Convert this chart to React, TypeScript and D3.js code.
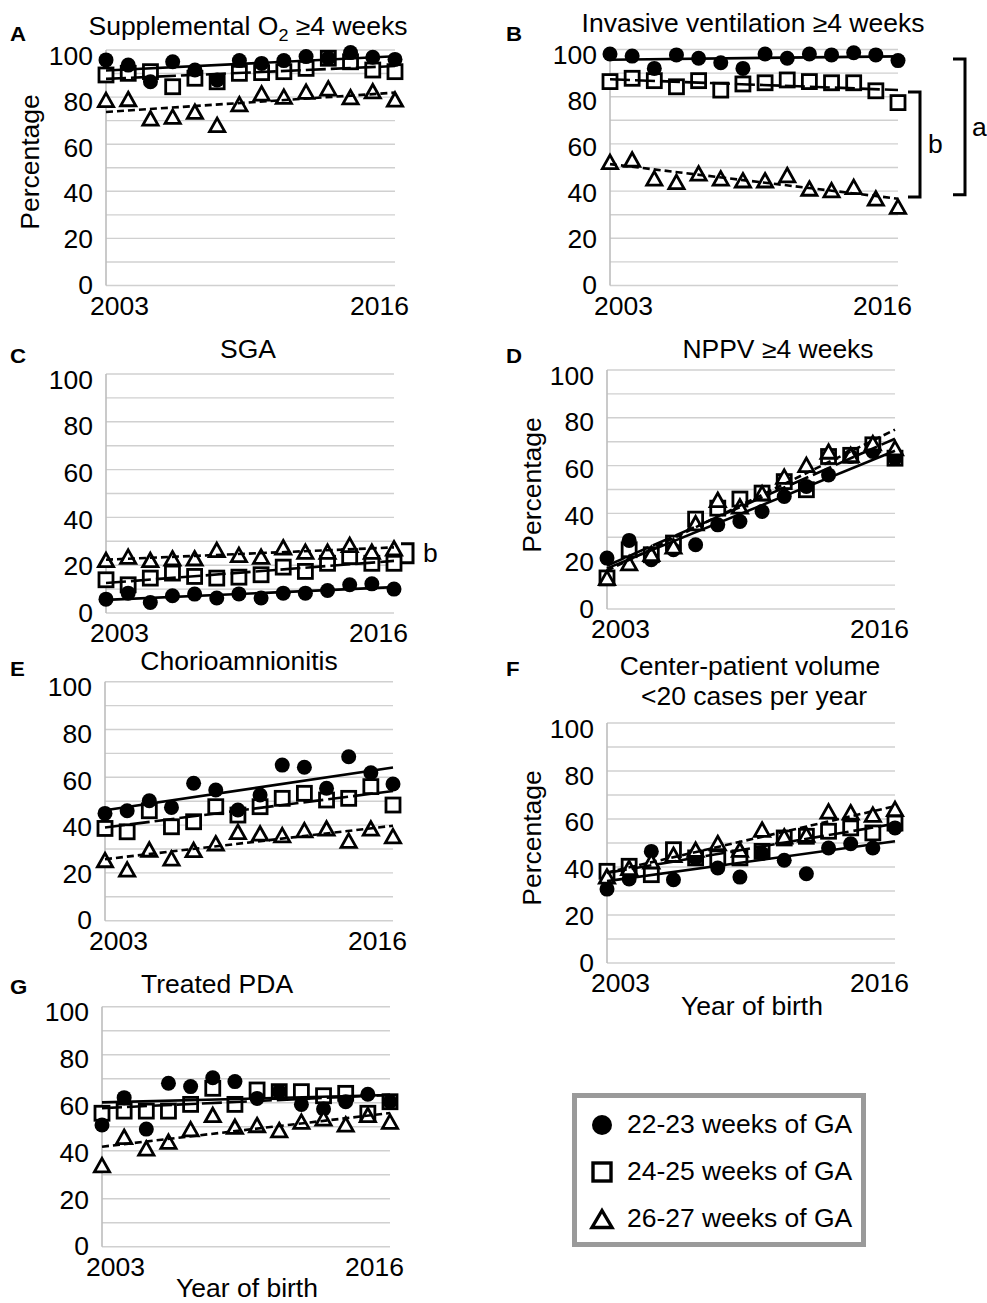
import React from 'react';
import * as d3 from 'd3';

const years = [2003, 2004, 2005, 2006, 2007, 2008, 2009, 2010, 2011, 2012, 2013, 2014, 2015, 2016];
const seriesNames = ['22-23 weeks of GA', '24-25 weeks of GA', '26-27 weeks of GA'];
const yTickValues = [0, 20, 40, 60, 80, 100];
const xTickLabels = ['2003', '2016'];

// A: Supplemental O2 >=4 weeks
const aCircles = [95.8, 93.6, 86.5, 95.0, 91.5, 87.3, 95.5, 94.3, 95.5, 97.2, 96.5, 98.9, 96.9, 96.0];
const aSquares = [89.4, 90.1, 90.8, 84.4, 88.0, 86.5, 90.1, 90.4, 90.8, 92.2, 96.5, 95.0, 91.5, 90.8];
const aTriangles = [78.8, 79.2, 71.0, 71.7, 73.8, 68.2, 77.0, 81.6, 80.2, 82.3, 83.7, 80.0, 82.5, 79.0];
// B: Invasive ventilation >=4 weeks
const bCircles = [98.1, 97.2, 92.0, 97.7, 96.3, 94.4, 92.0, 98.1, 96.3, 98.1, 97.7, 98.6, 97.7, 95.3];
const bSquares = [86.4, 87.8, 86.8, 84.2, 86.8, 82.8, 85.4, 85.9, 87.1, 86.4, 85.9, 85.9, 82.5, 77.5];
const bTriangles = [52.4, 53.4, 45.4, 43.9, 47.5, 45.4, 44.6, 44.6, 46.8, 41.1, 40.4, 41.8, 36.9, 33.4];
// C: SGA
const cCircles = [5.8, 8.3, 4.4, 7.2, 7.9, 6.3, 8.0, 6.3, 8.3, 8.3, 9.4, 11.8, 12.2, 10.0];
const cSquares = [13.9, 11.8, 14.6, 16.7, 15.3, 14.6, 15.0, 16.0, 19.2, 17.4, 20.8, 23.6, 20.8, 20.8];
const cTriangles = [22.2, 23.6, 22.2, 22.9, 22.9, 26.4, 24.3, 23.6, 27.5, 25.7, 25.7, 28.5, 25.7, 27.1];
// D: NPPV >=4 weeks
const dCircles = [21.3, 28.7, 20.6, 24.8, 26.9, 35.2, 36.6, 40.8, 47.1, 51.3, 56.1, 63.8, 65.9, 63.1];
const dSquares = [13.0, 24.8, 22.7, 27.6, 37.6, 42.2, 46.0, 48.5, 53.3, 49.9, 63.8, 64.3, 68.7, 63.1];
const dTriangles = [13.0, 19.2, 23.1, 26.2, 35.9, 45.7, 42.9, 48.5, 55.4, 60.3, 65.9, 64.5, 69.4, 67.3];
// E: Chorioamnionitis
const eCircles = [44.9, 46.0, 50.2, 47.4, 57.5, 54.7, 46.3, 52.6, 65.1, 64.2, 55.4, 68.6, 61.9, 57.2];
const eSquares = [38.6, 37.2, 46.0, 39.3, 41.4, 47.7, 44.2, 47.7, 51.2, 53.3, 50.5, 51.2, 56.1, 48.4];
const eTriangles = [25.4, 21.5, 29.8, 26.1, 29.6, 32.4, 37.2, 36.5, 35.8, 37.9, 38.6, 33.5, 38.6, 35.4];
// F: Center-patient volume <20 cases per year
const fCircles = [30.8, 35.0, 46.5, 34.7, 43.8, 39.6, 35.8, 45.6, 42.8, 37.2, 47.9, 49.7, 47.9, 56.3];
const fSquares = [38.2, 40.3, 36.8, 47.2, 43.8, 43.8, 43.8, 46.5, 52.1, 52.8, 54.9, 56.3, 54.2, 58.3];
const fTriangles = [36.1, 39.6, 42.4, 45.1, 47.2, 50.0, 47.2, 55.6, 52.8, 53.5, 63.2, 62.8, 61.8, 64.2];
// G: Treated PDA
const gCircles = [50.7, 62.1, 49.0, 68.1, 66.7, 70.4, 68.8, 61.8, 64.6, 59.3, 57.4, 60.4, 63.5, 60.4];
const gSquares = [55.6, 56.5, 56.5, 56.5, 59.3, 66.0, 59.3, 65.3, 64.6, 64.6, 62.9, 63.9, 55.6, 60.4];
const gTriangles = [34.0, 45.8, 41.0, 43.8, 49.0, 54.9, 50.0, 50.7, 48.6, 52.1, 53.5, 51.0, 54.9, 52.1];

// significance brackets (value ranges)
const bBracketA = [96, 38.5];
const bBracketB = [82, 37.5];
const cBracketB = [29, 21];

const FONT = "'Liberation Sans', Arial, Helvetica, sans-serif";
const FS = 25;
const SX = 1.06;

function regression(xs: number[], ys: number[]) {
  const mx = d3.mean(xs) as number;
  const my = d3.mean(ys) as number;
  let num = 0;
  let den = 0;
  xs.forEach((x, i) => {
    num += (x - mx) * (ys[i] - my);
    den += (x - mx) * (x - mx);
  });
  const b = num / den;
  return (x: number) => my + b * (x - mx);
}

type Layout = { x0: number; x1: number; y0: number; y100: number };

const SQ = 14;
const TRI_W = 7.6;
const TRI_H = 13.5;
const MSW = 2.8;

function trianglePath(cx: number, cy: number, hw: number, h: number) {
  return `M${cx},${cy - h / 2}L${cx + hw},${cy + h / 2}L${cx - hw},${cy + h / 2}Z`;
}

function T(props: {
  x: number;
  y: number;
  anchor?: 'start' | 'middle' | 'end';
  size?: number;
  weight?: string;
  rotate?: number;
  dy?: string;
  children: React.ReactNode;
}) {
  const { x, y, anchor = 'start', size = FS, weight, rotate, dy } = props;
  return (
    <text
      transform={`translate(${x},${y})${rotate ? ` rotate(${rotate})` : ''} scale(${SX},1)`}
      textAnchor={anchor}
      fontSize={size}
      fontWeight={weight}
      fontFamily={FONT}
      dy={dy}
      fill="#000"
    >
      {props.children}
    </text>
  );
}

function Panel(props: {
  layout: Layout;
  circles: number[];
  squares: number[];
  triangles: number[];
  yLabel?: { x: number; y: number };
  brackets?: { range: number[]; x: number; label: string; lx: number }[];
}) {
  const { layout, circles, squares, triangles } = props;
  const x = d3.scaleLinear().domain([years[0], years[years.length - 1]]).range([layout.x0, layout.x1]);
  const y = d3.scaleLinear().domain([0, 100]).range([layout.y0, layout.y100]);
  const grid = y.ticks(10);
  const fits = [
    { f: regression(years, circles), dash: undefined },
    { f: regression(years, squares), dash: '20,5' },
    { f: regression(years, triangles), dash: '7,4' },
  ];
  const xa = years[0];
  const xb = years[years.length - 1];
  return (
    <g>
      {grid.map((v) => (
        <line key={'g' + v} x1={layout.x0} x2={layout.x1} y1={y(v)} y2={y(v)} stroke="#d0d0d0" strokeWidth={1.4} />
      ))}
      <line x1={layout.x0} x2={layout.x0} y1={y(100)} y2={y(0)} stroke="#bdbdbd" strokeWidth={1.6} />
      {yTickValues.map((v) => (
        <T key={'t' + v} x={layout.x0 - 13} y={y(v) + (v / 100) * 6} anchor="end" dy="0.35em">
          {v}
        </T>
      ))}
      <T x={layout.x0 - 16} y={layout.y0 + 29}>
        {xTickLabels[0]}
      </T>
      <T x={layout.x1 + 14} y={layout.y0 + 29} anchor="end">
        {xTickLabels[1]}
      </T>
      {props.yLabel && (
        <T x={props.yLabel.x} y={props.yLabel.y} anchor="middle" rotate={-90}>
          Percentage
        </T>
      )}
      {squares.map((v, i) => (
        <rect
          key={'s' + i}
          x={x(years[i]) - SQ / 2}
          y={y(v) - SQ / 2}
          width={SQ}
          height={SQ}
          fill="#fff"
          stroke="#000"
          strokeWidth={MSW}
        />
      ))}
      {circles.map((v, i) => (
        <circle key={'c' + i} cx={x(years[i])} cy={y(v)} r={7.5} fill="#000" />
      ))}
      {triangles.map((v, i) => (
        <path
          key={'tr' + i}
          d={trianglePath(x(years[i]), y(v), TRI_W, TRI_H)}
          fill="#fff"
          stroke="#000"
          strokeWidth={MSW}
          strokeLinejoin="miter"
        />
      ))}
      {fits.map((ft, i) => (
        <line
          key={'f' + i}
          x1={x(xa)}
          x2={x(xb)}
          y1={y(ft.f(xa))}
          y2={y(ft.f(xb))}
          stroke="#000"
          strokeWidth={2.6}
          strokeDasharray={ft.dash}
        />
      ))}
      {props.brackets &&
        props.brackets.map((b, i) => (
          <g key={'b' + i}>
            <path
              d={`M${b.x - 12},${y(b.range[0])}H${b.x}V${y(b.range[1])}H${b.x - 12}`}
              fill="none"
              stroke="#000"
              strokeWidth={3}
            />
            <T x={b.lx} y={(y(b.range[0]) + y(b.range[1])) / 2} dy="0.35em">
              {b.label}
            </T>
          </g>
        ))}
    </g>
  );
}

function PanelLetter({ x, y, t }: { x: number; y: number; t: string }) {
  return (
    <T x={x} y={y} size={21} weight="bold">
      {t}
    </T>
  );
}

export default function App() {
  return (
    <svg
      width={987}
      height={1303}
      viewBox="0 0 987 1303"
      style={{ position: 'absolute', left: 0, top: 0, background: '#fff' }}
    >
      <rect width={987} height={1303} fill="#fff" />
      {/* A */}
      <PanelLetter x={10} y={41} t="A" />
      <T x={248} y={35} anchor="middle">
        Supplemental O
        <tspan fontSize={17} dy={6}>
          2
        </tspan>
        <tspan dy={-6}> ≥4 weeks</tspan>
      </T>
      <Panel
        layout={{ x0: 106, x1: 395, y0: 285.5, y100: 50 }}
        circles={aCircles}
        squares={aSquares}
        triangles={aTriangles}
        yLabel={{ x: 39, y: 162 }}
      />
      {/* B */}
      <PanelLetter x={506} y={41} t="B" />
      <T x={753} y={32} anchor="middle">
        Invasive ventilation ≥4 weeks
      </T>
      <Panel
        layout={{ x0: 610, x1: 898, y0: 285.5, y100: 49.5 }}
        circles={bCircles}
        squares={bSquares}
        triangles={bTriangles}
        brackets={[
          { range: bBracketA, x: 965, label: 'a', lx: 972 },
          { range: bBracketB, x: 920, label: 'b', lx: 928 },
        ]}
      />
      {/* C */}
      <PanelLetter x={10} y={363} t="C" />
      <T x={248} y={358} anchor="middle">
        SGA
      </T>
      <Panel
        layout={{ x0: 106, x1: 394, y0: 613, y100: 374 }}
        circles={cCircles}
        squares={cSquares}
        triangles={cTriangles}
        brackets={[{ range: cBracketB, x: 413, label: 'b', lx: 423 }]}
      />
      {/* D */}
      <PanelLetter x={506} y={363} t="D" />
      <T x={778} y={358} anchor="middle">
        NPPV ≥4 weeks
      </T>
      <Panel
        layout={{ x0: 607, x1: 895, y0: 609, y100: 370 }}
        circles={dCircles}
        squares={dSquares}
        triangles={dTriangles}
        yLabel={{ x: 541, y: 485 }}
      />
      {/* E */}
      <PanelLetter x={10} y={676} t="E" />
      <T x={239} y={670} anchor="middle">
        Chorioamnionitis
      </T>
      <Panel
        layout={{ x0: 105, x1: 393, y0: 920.7, y100: 681.7 }}
        circles={eCircles}
        squares={eSquares}
        triangles={eTriangles}
      />
      {/* F */}
      <PanelLetter x={506} y={676} t="F" />
      <T x={750} y={675} anchor="middle">
        Center-patient volume
      </T>
      <T x={754} y={705} anchor="middle">
        &lt;20 cases per year
      </T>
      <Panel
        layout={{ x0: 607, x1: 895, y0: 963, y100: 723 }}
        circles={fCircles}
        squares={fSquares}
        triangles={fTriangles}
        yLabel={{ x: 541, y: 838 }}
      />
      <T x={752} y={1015} anchor="middle">
        Year of birth
      </T>
      {/* G */}
      <PanelLetter x={10} y={994} t="G" />
      <T x={217} y={993} anchor="middle">
        Treated PDA
      </T>
      <Panel
        layout={{ x0: 102, x1: 390, y0: 1246.7, y100: 1006.7 }}
        circles={gCircles}
        squares={gSquares}
        triangles={gTriangles}
      />
      <T x={247} y={1297} anchor="middle">
        Year of birth
      </T>
      {/* Legend */}
      <rect x={574.5} y={1095.5} width={289} height={149} fill="#fff" stroke="#9a9a9a" strokeWidth={5} />
      <circle cx={602} cy={1125} r={10} fill="#000" />
      <rect x={593} y={1163} width={18} height={18} fill="#fff" stroke="#000" strokeWidth={3.4} />
      <path d={trianglePath(602, 1219, 10, 17)} fill="#fff" stroke="#000" strokeWidth={3.4} />
      {seriesNames.map((s, i) => (
        <T key={s} x={627} y={1133 + i * 47}>
          {s}
        </T>
      ))}
    </svg>
  );
}
